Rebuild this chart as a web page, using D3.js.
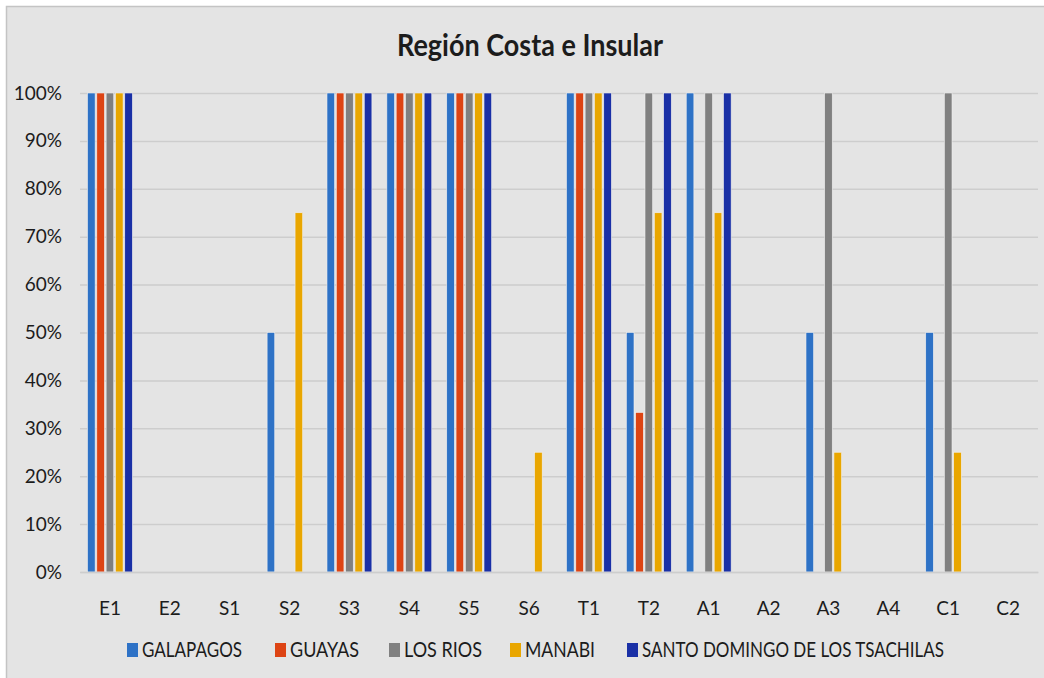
<!DOCTYPE html>
<html>
<head>
<meta charset="utf-8">
<script src="https://cdn.jsdelivr.net/npm/d3@7"></script>
<style>
  html, body { margin: 0; padding: 0; background: #ffffff; }
  svg { display: block; }
  text { font-family: Lato, "Open Sans", "Liberation Sans", sans-serif; fill: #1c1c1c; }
</style>
</head>
<body>
<svg id="chart" width="1044" height="678"></svg>
<script>
// Indicator codes along the x axis
const categories = ["E1","E2","S1","S2","S3","S4","S5","S6","T1","T2","A1","A2","A3","A4","C1","C2"];

// Provinces (series) and their colours
const seriesNames = ["GALAPAGOS","GUAYAS","LOS RIOS","MANABI","SANTO DOMINGO DE LOS TSACHILAS"];
const seriesColors = ["#2e72c6","#dd4414","#808080","#e9a600","#1a30a6"];

// Share of compliance per indicator (fraction of 1)
const galapagos = [1, 0, 0, 0.5, 1, 1, 1, 0,    1, 0.5,   1, 0, 0.5, 0, 0.5, 0];
const guayas    = [1, 0, 0, 0,   1, 1, 1, 0,    1, 0.333, 0, 0, 0,   0, 0,   0];
const losRios   = [1, 0, 0, 0,   1, 1, 1, 0,    1, 1,     1, 0, 1,   0, 1,   0];
const manabi    = [1, 0, 0, 0.75,1, 1, 1, 0.25, 1, 0.75,  0.75,0,0.25,0, 0.25,0];
const santoDom  = [1, 0, 0, 0,   1, 1, 1, 0,    1, 1,     1, 0, 0,   0, 0,   0];
const seriesValues = [galapagos, guayas, losRios, manabi, santoDom];

const yTicks = [0,0.1,0.2,0.3,0.4,0.5,0.6,0.7,0.8,0.9,1];
const titleText = "Región Costa e Insular";

const svg = d3.select("#chart");

// chart frame
svg.append("rect")
  .attr("x", 6.5).attr("y", 6.5)
  .attr("width", 1050).attr("height", 680)
  .attr("fill", "#e4e4e4")
  .attr("stroke", "#c4c4c4").attr("stroke-width", 1.5);

const plot = { left: 80, right: 1038, top: 93, bottom: 572 };

const x0 = d3.scaleBand().domain(categories).range([plot.left, plot.right]).padding(0);
const x1 = d3.scaleBand().domain(seriesNames)
  .range([x0.bandwidth() * 0.125, x0.bandwidth() * 0.875])
  .paddingInner(0.18);
const y = d3.scaleLinear().domain([0, 1]).range([plot.bottom, plot.top]);

// gridlines + y labels
const yAxis = d3.axisLeft(y)
  .tickValues(yTicks)
  .tickSize(-(plot.right - plot.left))
  .tickPadding(18)
  .tickFormat(d3.format(".0%"));

const gy = svg.append("g")
  .attr("transform", `translate(${plot.left},0)`)
  .call(yAxis);
gy.select(".domain").remove();
gy.selectAll(".tick line").attr("stroke", "#cdcdcd").attr("stroke-width", 1.5);
gy.selectAll(".tick text")
  .attr("font-size", 19)
  .attr("fill", "#1c1c1c")
  .style("font-family", "Lato, sans-serif");

// bars
const groups = svg.append("g").selectAll("g")
  .data(categories)
  .join("g")
  .attr("transform", d => `translate(${x0(d)},0)`);

groups.selectAll("rect")
  .data((c, i) => seriesNames.map((s, k) => ({ s, k, v: seriesValues[k][i] })).filter(d => d.v > 0))
  .join("rect")
  .attr("x", d => x1(d.s))
  .attr("width", x1.bandwidth())
  .attr("y", d => y(d.v))
  .attr("height", d => y(0) - y(d.v))
  .attr("fill", d => seriesColors[d.k])
  .attr("stroke", "#f0f0f0")
  .attr("stroke-width", 0.6);

// x axis
const xAxis = d3.axisBottom(x0).tickSize(0).tickPadding(30);
const gx = svg.append("g")
  .attr("transform", `translate(0,${plot.bottom})`)
  .call(xAxis);
gx.select(".domain").attr("stroke", "#cdcdcd").attr("stroke-width", 1.5);
gx.selectAll(".tick text")
  .attr("font-size", 19)
  .attr("fill", "#1c1c1c")
  .style("font-family", "Lato, sans-serif");

// title
svg.append("text")
  .attr("x", 530).attr("y", 56)
  .attr("text-anchor", "middle")
  .attr("font-size", 31)
  .attr("font-weight", "bold")
  .attr("textLength", 266)
  .attr("lengthAdjust", "spacingAndGlyphs")
  .text(titleText);

// legend
const legendX = [127, 275, 389, 510, 627];
const legendW = [100, 69, 78, 70, 302];
const legend = svg.append("g").selectAll("g")
  .data(seriesNames)
  .join("g")
  .attr("transform", (d, i) => `translate(${legendX[i]},0)`);
legend.append("rect")
  .attr("x", 0).attr("y", 643)
  .attr("width", 11).attr("height", 14)
  .attr("fill", (d, i) => seriesColors[i]);
legend.append("text")
  .attr("x", 15).attr("y", 657)
  .attr("font-size", 21)
  .attr("textLength", (d, i) => legendW[i])
  .attr("lengthAdjust", "spacingAndGlyphs")
  .text(d => d);
</script>
</body>
</html>
